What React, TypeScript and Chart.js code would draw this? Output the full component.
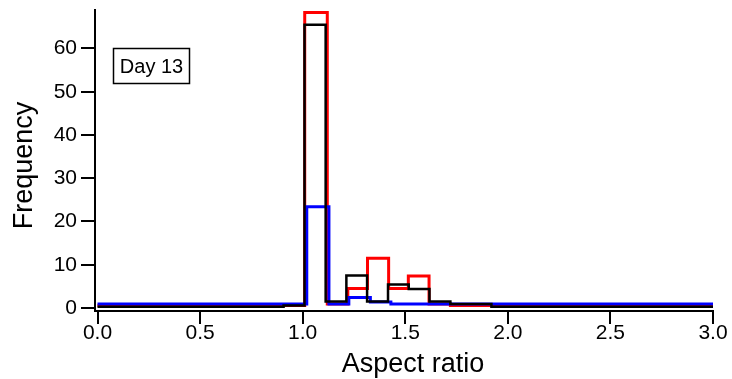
import React, { useEffect, useRef } from "react";
import { Chart, registerables } from "chart.js";

Chart.register(...registerables);

// ---- data ----
const xTickValues = [0, 0.5, 1.0, 1.5, 2.0, 2.5, 3.0];
const yTickValues = [0, 10, 20, 30, 40, 50, 60];

const redEdges = [0, 1.01, 1.12, 1.22, 1.316, 1.419, 1.515, 1.616, 1.72, 3.0];
const redCounts = [0.6, 68.3, 0.9, 4.5, 11.5, 4.5, 7.4, 0.9, 0.6];

const blueEdges = [0, 1.02, 1.128, 1.225, 1.33, 1.43, 3.0];
const blueCounts = [0.9, 23.4, 0.9, 2.4, 1.4, 0.9];

const blackEdges = [0, 0.907, 1.009, 1.112, 1.213, 1.314, 1.416, 1.517, 1.618, 1.72, 1.92, 3.0];
const blackCounts = [0.3, 0.6, 65.5, 1.5, 7.5, 1.5, 5.4, 4.4, 1.5, 0.9, 0.3];

const labelText = "Day 13";
const xTitle = "Aspect ratio";
const yTitle = "Frequency";

function stepPoints(edges: number[], counts: number[]) {
  const pts: { x: number; y: number }[] = [];
  counts.forEach((c, i) => {
    pts.push({ x: edges[i], y: c });
    pts.push({ x: edges[i + 1], y: c });
  });
  return pts;
}

const FONT = "'Liberation Sans', Arial, sans-serif";

const annotationsPlugin = {
  id: "annotations",
  afterDraw(chart: any) {
    const { ctx, chartArea } = chart;
    // label box
    const x = chartArea.left + 18.5;
    const y = chartArea.top + 38.5;
    const w = 76;
    const h = 35;
    ctx.save();
    ctx.fillStyle = "#ffffff";
    ctx.fillRect(x, y, w, h);
    ctx.strokeStyle = "#000000";
    ctx.lineWidth = 1.5;
    ctx.strokeRect(x, y, w, h);
    ctx.fillStyle = "#000000";
    ctx.font = `20px ${FONT}`;
    ctx.textAlign = "center";
    ctx.textBaseline = "middle";
    ctx.fillText(labelText, x + w / 2, y + h / 2 + 1);

    // axis titles
    ctx.font = `27px ${FONT}`;
    ctx.textBaseline = "alphabetic";
    ctx.textAlign = "center";
    const cx = (chartArea.left + chartArea.right) / 2 + 9;
    ctx.fillText(xTitle, cx, chartArea.bottom + 61);

    ctx.save();
    const cy = (chartArea.top + chartArea.bottom) / 2 + 5;
    ctx.translate(32, cy);
    ctx.rotate(-Math.PI / 2);
    ctx.fillText(yTitle, 0, 0);
    ctx.restore();
    ctx.restore();
  },
};

export default function App() {
  const ref = useRef<HTMLCanvasElement | null>(null);
  useEffect(() => {
    if (!ref.current) return;
    const mk = (label: string, edges: number[], counts: number[], color: string, width: number, order: number) => ({
      label,
      data: stepPoints(edges, counts),
      borderColor: color,
      backgroundColor: color,
      borderWidth: width,
      pointRadius: 0,
      tension: 0,
      fill: false,
      borderJoinStyle: "miter" as const,
      borderCapStyle: "butt" as const,
      order,
    });
    const chart = new Chart(ref.current, {
      type: "line",
      data: {
        datasets: [
          mk("black", blackEdges, blackCounts, "#000000", 2.5, 0),
          mk("blue", blueEdges, blueCounts, "#0000ff", 3, 1),
          mk("red", redEdges, redCounts, "#ff0000", 3, 2),
        ],
      },
      options: {
        responsive: false,
        animation: false,
        events: [],
        layout: { padding: { top: 10, right: 19, left: 0, bottom: 0 } },
        plugins: { legend: { display: false }, tooltip: { enabled: false } },
        scales: {
          x: {
            type: "linear",
            min: -0.0122,
            max: 3.0,
            border: { display: true, color: "#000", width: 2 },
            grid: { drawOnChartArea: false, drawTicks: true, tickLength: 13, color: "#000", lineWidth: 2 },
            ticks: {
              color: "#000",
              font: { family: FONT, size: 21 },
              padding: -3,
              maxRotation: 0,
              autoSkip: false,
              callback: (v: any) => Number(v).toFixed(1),
            },
            afterBuildTicks: (s: any) => {
              s.ticks = xTickValues.map((v) => ({ value: v }));
            },
            afterFit: (s: any) => {
              s.height = 68;
              s.paddingLeft = 0;
              s.paddingRight = 0;
            },
          },
          y: {
            type: "linear",
            min: -0.7,
            max: 68.9,
            border: { display: true, color: "#000", width: 2 },
            grid: { drawOnChartArea: false, drawTicks: true, tickLength: 14, color: "#000", lineWidth: 2 },
            ticks: {
              color: "#000",
              font: { family: FONT, size: 21 },
              padding: 4,
              autoSkip: false,
            },
            afterBuildTicks: (s: any) => {
              s.ticks = yTickValues.map((v) => ({ value: v }));
            },
            afterFit: (s: any) => {
              s.width = 95;
              s.paddingTop = 0;
              s.paddingBottom = 0;
            },
          },
        },
      },
      plugins: [annotationsPlugin],
    });
    return () => chart.destroy();
  }, []);
  return (
    <div style={{ position: "absolute", left: 0, top: 0, width: 732, height: 379, background: "#fff" }}>
      <canvas ref={ref} width={732} height={379} style={{ display: "block" }} />
    </div>
  );
}
